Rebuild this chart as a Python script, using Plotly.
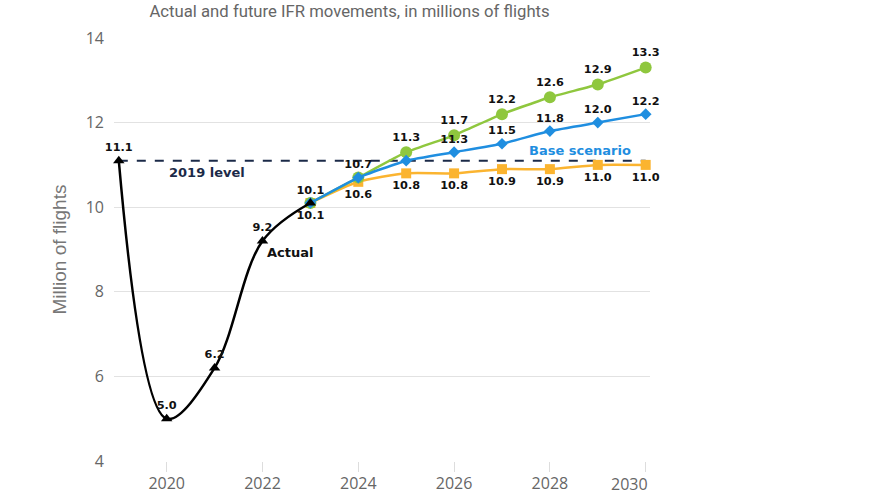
import plotly.graph_objects as go

actual_years = [2019, 2020, 2021, 2022, 2023]
actual_vals = [11.1, 5.0, 6.2, 9.2, 10.1]

fc_years = [2023, 2024, 2025, 2026, 2027, 2028, 2029, 2030]
high_vals = [10.1, 10.7, 11.3, 11.7, 12.2, 12.6, 12.9, 13.3]
base_vals = [10.1, 10.7, 11.1, 11.3, 11.5, 11.8, 12.0, 12.2]
low_vals = [10.1, 10.6, 10.8, 10.8, 10.9, 10.9, 11.0, 11.0]

high_labels = ["", "", "11.3", "11.7", "12.2", "12.6", "12.9", "13.3"]
base_labels = ["10.1", "10.7", "", "11.3", "11.5", "11.8", "12.0", "12.2"]
low_labels = ["10.1", "10.6", "10.8", "10.8", "10.9", "10.9", "11.0", "11.0"]
actual_labels = ["11.1", "5.0", "6.2", "9.2", ""]

level_2019 = 11.1
x_ticks = [2020, 2022, 2024, 2026, 2028, 2030]
x_tick_labels = ["2020", "2022", "2024", "2026", "2028", "2030"]
y_ticks = [4, 6, 8, 10, 12, 14]

GREEN = "#8fc73e"
BLUE = "#1f8ee0"
ORANGE = "#fbb430"
NAVY = "#1b2a48"
LBL = dict(family="DejaVu Sans", size=11.3, color="#111111", weight="bold")

fig = go.Figure()

fig.add_trace(go.Scatter(
    x=[2019, 2030], y=[level_2019, level_2019], mode="lines",
    line=dict(color=NAVY, width=2, dash="dash"), hoverinfo="skip", showlegend=False))

fig.add_trace(go.Scatter(
    x=fc_years, y=low_vals, mode="lines+markers+text",
    line=dict(color=ORANGE, width=2.5, shape="spline", smoothing=0.6),
    marker=dict(symbol="square", size=10, color=ORANGE),
    text=low_labels, textposition="bottom center", textfont=LBL,
    cliponaxis=False, showlegend=False))

fig.add_trace(go.Scatter(
    x=fc_years, y=high_vals, mode="lines+markers+text",
    line=dict(color=GREEN, width=2.5, shape="spline", smoothing=0.4),
    marker=dict(symbol="circle", size=12, color=GREEN),
    text=high_labels, textposition="top center", textfont=LBL,
    cliponaxis=False, showlegend=False))

fig.add_trace(go.Scatter(
    x=fc_years, y=base_vals, mode="lines+markers+text",
    line=dict(color=BLUE, width=2.5, shape="spline", smoothing=0.4),
    marker=dict(symbol="diamond", size=9, color=BLUE),
    text=base_labels, textposition="top center", textfont=LBL,
    cliponaxis=False, showlegend=False))

fig.add_trace(go.Scatter(
    x=actual_years, y=actual_vals, mode="lines+markers+text",
    line=dict(color="#000000", width=2.5, shape="spline", smoothing=1.0),
    marker=dict(symbol="triangle-up", size=10, color="#000000"),
    text=actual_labels, textposition="top center", textfont=LBL,
    cliponaxis=False, showlegend=False))

fig.add_annotation(x=2020.84, y=10.81, text="<b>2019 level</b>", showarrow=False,
                   font=dict(family="DejaVu Sans", size=13, color=NAVY))
fig.add_annotation(x=2028.63, y=11.33, text="<b>Base scenario</b>", showarrow=False,
                   font=dict(family="DejaVu Sans", size=13, color=BLUE))
fig.add_annotation(x=2022.57, y=8.92, text="<b>Actual</b>", showarrow=False,
                   font=dict(family="DejaVu Sans", size=13, color="#111111"))

# last x tick label is pulled inside the plot edge, as in the reference
fig.add_annotation(x=x_ticks[-1], xref="x", y=0, yref="paper", text=x_tick_labels[-1],
                   showarrow=False, xanchor="right", yanchor="top", xshift=4, yshift=-10,
                   font=dict(family="Open Sans", size=16, color="#666666"))

fig.update_layout(
    width=885, height=500,
    margin=dict(l=114, r=235, t=38, b=39),
    paper_bgcolor="white", plot_bgcolor="white",
    title=dict(text="Actual and future IFR movements, in millions of flights",
               x=0.395, xanchor="center", y=0.989, yanchor="top",
               font=dict(family="Roboto", size=16.7, color="#666666")),
    xaxis=dict(range=[2018.9, 2030.09], tickvals=x_ticks,
               ticktext=x_tick_labels[:-1] + [""], showgrid=False, automargin=False,
               ticks="outside", ticklen=10, tickcolor="#dddddd", showline=False,
               ticklabelstandoff=-2,
               zeroline=False, tickfont=dict(family="Open Sans", size=16, color="#666666")),
    yaxis=dict(range=[4, 14], tickvals=y_ticks, showgrid=True, gridcolor="#e2e2e2",
               zeroline=False, showline=False, ticks="", ticklabelstandoff=9,
               automargin=False,
               title=dict(text="Million of flights", standoff=14,
                          font=dict(family="Liberation Sans", size=19, color="#777777")),
               tickfont=dict(family="Open Sans", size=16, color="#666666")),
)

# remove the default 8px page margin so the figure fills the window exactly
fig.write_html("out.html", config={"displayModeBar": False},
               post_script="document.body.style.margin='0';")
